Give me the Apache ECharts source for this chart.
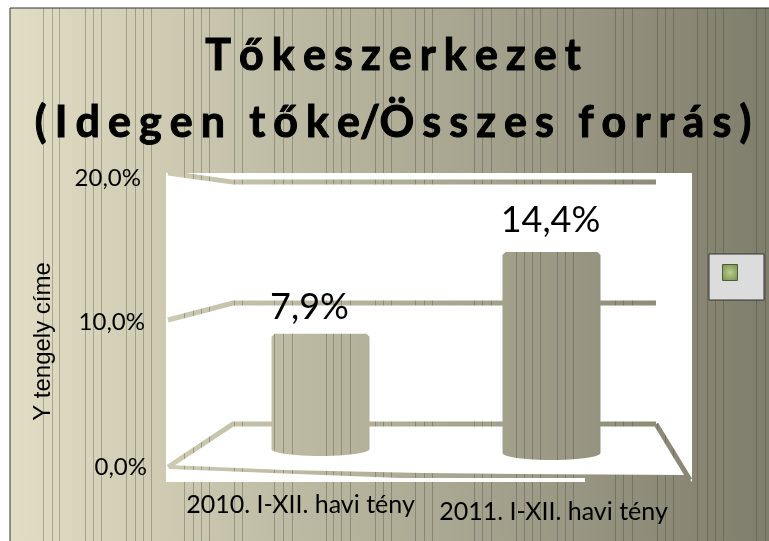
<!DOCTYPE html>
<html><head><meta charset="utf-8">
<style>html,body{margin:0;padding:0;background:#fff}#c{width:769px;height:541px}</style>
<script src="https://cdn.jsdelivr.net/npm/echarts@6/dist/echarts.min.js"></script>
</head><body><div id="c"></div>
<script>
const categories = ['2010. I-XII. havi tény', '2011. I-XII. havi tény'];
const ratios = [7.9, 14.4];
const tickValues = [0, 10, 20];
const tickLabels = {0: '0,0%', 10: '10,0%', 20: '20,0%'};
const seriesName = 'Tőkeszerkezet';
const titleLines = ['Tőkeszerkezet', '(Idegen tőke/Összes forrás)'];
const yTitle = 'Y tengely címe';

// background texture, shared by page, bars and grid lines
const W = 769, H = 541;
const stripeX = [43,52,59,85,93,101,126,135,143,151,184,193,201,209,234,242,274,283,292,326,333,341,350,375,383,391,415,424,432,474,482,491,516,524,532,540,557,565,573,615,623,632,657,665,673,697,707,715,723,756,765];
const tex = document.createElement('canvas'); tex.width = W; tex.height = H;
const t = tex.getContext('2d');
const g = t.createLinearGradient(0, 0, W, 0);
g.addColorStop(0, '#e3dfc6'); g.addColorStop(0.5, '#b2af99'); g.addColorStop(1, '#7f7d6b');
t.fillStyle = g; t.fillRect(0, 0, W, H);
t.fillStyle = 'rgba(60,60,48,0.32)';
stripeX.forEach(x => t.fillRect(x, 0, 1, H));
const texture = {image: tex, repeat: 'no-repeat'};

const spaced = s => s.split('').join('\u2009\u200a').replace(/\u2009\u200a \u2009\u200a/g, '\u2002\u200a').replace('e\u2009\u200a/\u2009\u200a', 'e/');

function gridItem(params, api) {
  const v = api.value(0), cs = params.coordSys;
  const y = api.coord([0, v])[1], y0 = api.coord([0, 0])[1];
  const wallY = y0 - 43 - (y0 - y) * 0.837;
  const L = cs.x - 6, WL = cs.x + 59, WR = cs.x + cs.width - 24, R = cs.x + cs.width + 10;
  const leftY = y - v * 0.25;
  const line = {stroke: texture, fill: null, lineWidth: 5, lineJoin: 'miter'};
  const kids = [{type: 'polyline', shape: {points: [[L, leftY], [WL, wallY], [WR, wallY]]}, style: line}];
  if (v === 0) {
    kids.push({type: 'polyline', shape: {points: [[WR, wallY], [R, y0 + 13]]}, style: line});
    kids.push({type: 'polygon', shape: {points: [[L + 1, y0 - 2], [cs.x + 110, y0 + 3], [cs.x + 250, y0 + 6], [cs.x + 346, y0 + 7], [R - 4, y0 + 8], [R + 2, y0 + 15], [cs.x + 411, y0 + 15], [cs.x + 411, y0 + 11], [cs.x + 226, y0 + 11], [L + 1, y0 + 2]]}, style: {fill: texture}});
  }
  return {type: 'group', children: kids};
}

const barShift = [{x: 20, top: 19, base: 11}, {x: -2, top: 7, base: 7}];
function barItem(params, api) {
  const i = api.value(0), val = api.value(1), s = barShift[i];
  const c = api.coord([i, val]), b = api.coord([i, 0]);
  const cx = c[0] + s.x, hw = 49, top = c[1] - s.top, bot = b[1] - s.base;
  const pts = [[cx - hw + 3, top], [cx + hw - 3, top], [cx + hw, top + 3]];
  const n = 24;
  for (let k = 0; k <= n; k++) {
    const a = Math.PI * k / n;
    pts.push([cx + hw * Math.cos(a), bot - 7 + 7 * Math.sin(a)]);
  }
  pts.push([cx - hw, top + 3]);
  return {type: 'group', children: [
    {type: 'polygon', shape: {points: pts}, style: {fill: texture}},
    {type: 'text', x: cx - (i === 0 ? 11 : 1), y: top - (i === 0 ? 26 : 32),
     style: {text: val.toFixed(1).replace('.', ',') + '%', font: '36px Lato', fill: '#000', align: 'center', verticalAlign: 'middle'}}
  ]};
}

const chart = echarts.init(document.getElementById('c'), null, {renderer: 'canvas'});
chart.setOption({
  animation: false,
  backgroundColor: '#fff',
  title: {
    text: titleLines.map(spaced).join('\n'),
    left: 388, top: 18, textAlign: 'center',
    textStyle: {fontFamily: 'Lato', fontWeight: 'bold', fontSize: 43, lineHeight: 67, color: '#000', textBorderColor: '#000', textBorderWidth: 1}
  },
  legend: {
    left: 709, top: 254, orient: 'vertical', padding: [10, 26, 19, 13],
    backgroundColor: '#dcdcdc', borderColor: '#333', borderWidth: 1,
    itemWidth: 15, itemHeight: 16, itemGap: 0, formatter: () => '',
    data: [{name: seriesName, icon: 'rect', itemStyle: {
      color: {type: 'radial', x: .5, y: .5, r: .6, colorStops: [{offset: 0, color: '#bccd92'}, {offset: 1, color: '#7d9650'}]},
      borderColor: '#4d5a38', borderWidth: 1}}]
  },
  graphic: [
    {type: 'rect', z: -3, shape: {x: 10, y: 8, width: W, height: H}, style: {fill: texture, stroke: '#333', lineWidth: 1}},
    {type: 'rect', z: -2, shape: {x: 166, y: 173, width: 526, height: 309}, style: {fill: '#fff'}}
  ],
  grid: {left: 174, right: 89, top: 178, bottom: 74},
  xAxis: {
    type: 'category',
    data: [
      {value: categories[0], textStyle: {padding: [0, 0, 0, 0]}},
      {value: categories[1], textStyle: {padding: [7, 0, 0, 0]}}
    ],
    axisLine: {show: false}, axisTick: {show: false},
    axisLabel: {interval: 0, margin: 25, fontFamily: 'Lato', fontSize: 25, color: '#000', verticalAlign: 'top'}
  },
  yAxis: {
    type: 'value', min: 0, max: 20, interval: 10,
    name: yTitle, nameLocation: 'middle', nameGap: 119, nameRotate: 90,
    nameTextStyle: {fontFamily: 'Liberation Sans', fontSize: 24, color: '#000', padding: [0, 38, 0, 0]},
    splitLine: {show: false}, axisLine: {show: false}, axisTick: {show: false},
    axisLabel: {
      margin: 27, fontFamily: 'Lato', fontSize: 24, color: '#000',
      formatter: v => '{t' + v + '|' + tickLabels[v] + '}',
      rich: {t0: {}, t10: {padding: [0, 2, 0, 0]}, t20: {padding: [0, 6, 0, 0]}}
    }
  },
  series: [
    {type: 'custom', name: 'grid', silent: true, z: 1, data: tickValues.map(v => [v]), encode: {y: 0}, renderItem: gridItem},
    {type: 'custom', name: seriesName, z: 2, data: ratios.map((v, i) => [i, v]), encode: {x: 0, y: 1}, renderItem: barItem}
  ]
});
</script></body></html>
